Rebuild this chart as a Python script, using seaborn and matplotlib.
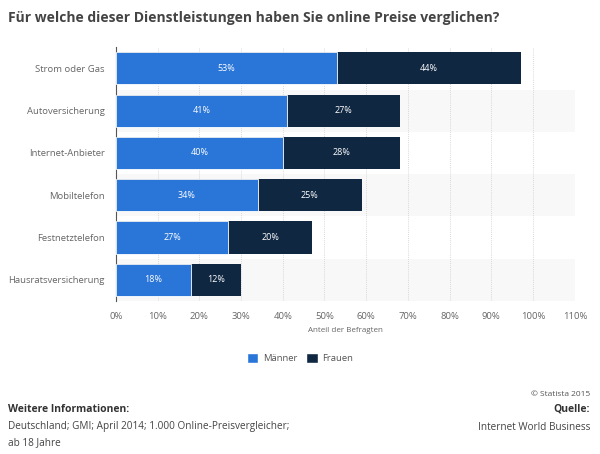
import pandas as pd
import numpy as np
import matplotlib
matplotlib.use("Agg")
import matplotlib.pyplot as plt
import seaborn as sns
from matplotlib.patches import Patch

categories = ["Strom oder Gas", "Autoversicherung", "Internet-Anbieter",
              "Mobiltelefon", "Festnetztelefon", "Hausratsversicherung"]
maenner = [53, 41, 40, 34, 27, 18]
frauen = [44, 27, 28, 25, 20, 12]
xticks = list(range(0, 111, 10))

BLUE = "#2a76d8"
NAVY = "#0f2741"

sns.set_style("white")
plt.rcParams["font.family"] = ["Open Sans", "DejaVu Sans"]

df = pd.DataFrame({"Kategorie": categories, "Männer": maenner, "Frauen": frauen})
df["Gesamt"] = df["Männer"] + df["Frauen"]

fig = plt.figure(figsize=(6, 4.54), dpi=100)
ax = fig.add_axes([0.193, 0.337, 0.765, 0.559])

# alternating row bands
for i in range(len(categories)):
    if i % 2 == 1:
        ax.axhspan(i - 0.5, i + 0.5, color="#f8f8f8", zorder=0, lw=0)

sns.barplot(data=df, y="Kategorie", x="Gesamt", color=NAVY, width=0.76,
            saturation=1, ax=ax, zorder=3, edgecolor="none")
sns.barplot(data=df, y="Kategorie", x="Männer", color=BLUE, width=0.76,
            saturation=1, ax=ax, zorder=4, edgecolor="white", linewidth=0.6)

for i, (m, f) in enumerate(zip(maenner, frauen)):
    ax.text(m / 2, i, f"{m}%", color="white", ha="center", va="center",
            fontsize=6.5, zorder=5)
    ax.text(m + f / 2, i, f"{f}%", color="white", ha="center", va="center",
            fontsize=6.5, zorder=5)

ax.set_xlim(0, 110)
ax.set_ylim(len(categories) - 0.5, -0.5)
ax.set_xticks(xticks)
ax.set_xticklabels([f"{t}%" for t in xticks])
ax.xaxis.grid(True, color="#cccccc", linestyle=(0, (1, 1.5)), linewidth=0.6, zorder=1)
ax.set_axisbelow(True)
ax.tick_params(axis="both", length=0, labelsize=6.8, labelcolor="#666666")
ax.tick_params(axis="x", pad=8)
ax.tick_params(axis="y", pad=8)
ax.set_ylabel("")
ax.set_xlabel("Anteil der Befragten", fontsize=5.8, color="#666666", labelpad=4)

for s in ["top", "right", "bottom"]:
    ax.spines[s].set_visible(False)
ax.spines["left"].set_color("#555555")
ax.spines["left"].set_linewidth(0.8)

handles = [Patch(facecolor=BLUE, label="Männer"), Patch(facecolor=NAVY, label="Frauen")]
fig.legend(handles=handles, loc="center", bbox_to_anchor=(0.5, 1 - 358 / 454), ncol=2,
           frameon=False, fontsize=6.8, handlelength=1.2, handleheight=1.2,
           columnspacing=1.0, handletextpad=0.5, labelcolor="#555555")

fig.text(8 / 600, 1 - 18 / 454, "Für welche dieser Dienstleistungen haben Sie online Preise verglichen?",
         fontsize=10, fontweight="bold", color="#444444", va="center", ha="left")

fig.text(8 / 600, 1 - 409 / 454, "Weitere Informationen:", fontsize=7.5, fontweight="bold",
         color="#333333", va="center")
fig.text(8 / 600, 1 - 427 / 454, "Deutschland; GMI; April 2014; 1.000 Online-Preisvergleicher;",
         fontsize=7.2, color="#444444", va="center")
fig.text(8 / 600, 1 - 443 / 454, "ab 18 Jahre", fontsize=7.2, color="#444444", va="center")

fig.text(590 / 600, 1 - 394 / 454, "© Statista 2015", fontsize=6, color="#555555",
         va="center", ha="right")
fig.text(590 / 600, 1 - 409 / 454, "Quelle:", fontsize=7.5, fontweight="bold",
         color="#333333", va="center", ha="right")
fig.text(590 / 600, 1 - 427 / 454, "Internet World Business", fontsize=7.2, color="#444444",
         va="center", ha="right")

fig.savefig("out.png", dpi=100, facecolor="white")
